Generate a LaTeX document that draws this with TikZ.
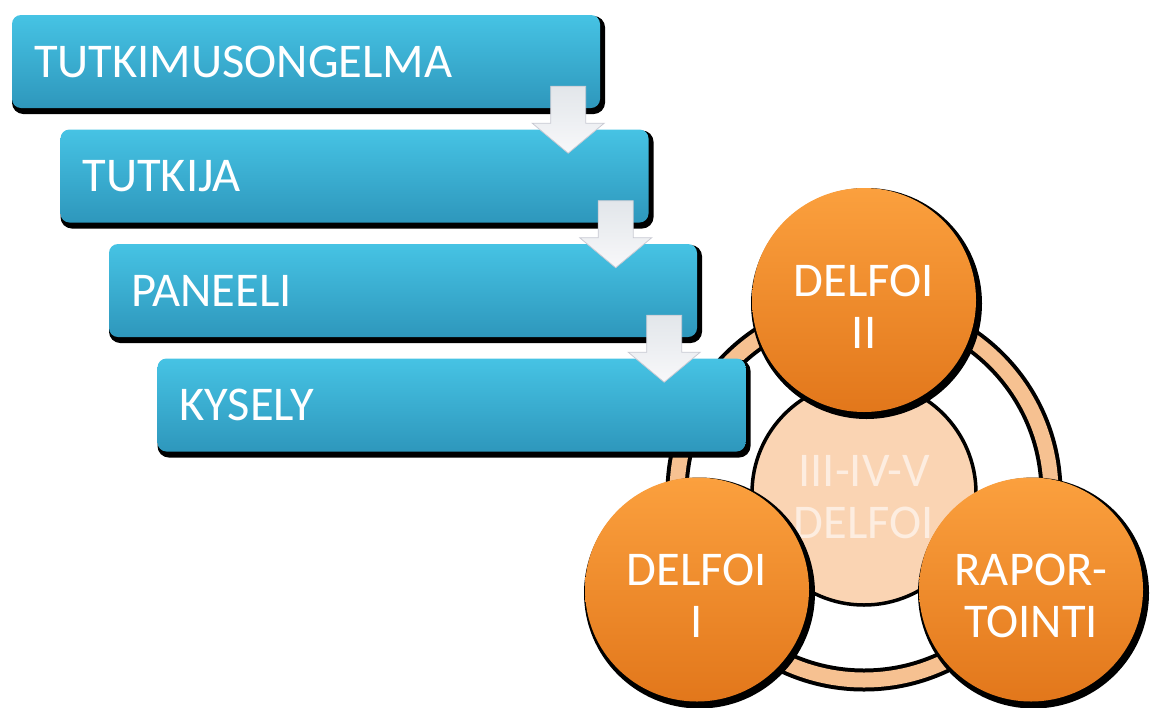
\documentclass[tikz,border=0pt]{standalone}
\usepackage{fontspec}
\setmainfont{Carlito}
\usetikzlibrary{calc,shadows}
\definecolor{boxtop}{HTML}{46C3E4}
\definecolor{boxbot}{HTML}{2E97BC}
\definecolor{orbtop}{HTML}{FBA03E}
\definecolor{orbbot}{HTML}{E2771B}
\definecolor{ringfill}{HTML}{F6C191}
\definecolor{corefill}{HTML}{FAD4B3}
\definecolor{coretext}{HTML}{FDEDE0}
\definecolor{arrowtop}{HTML}{E2E6EA}
\definecolor{arrowbot}{HTML}{F8F8FA}
\definecolor{arrowedge}{HTML}{C9CAD3}
\tikzset{
  bigfont/.style={font=\fontsize{48.5}{52}\selectfont},
  stage/.style={rectangle, rounded corners=9pt, minimum width=588pt,
    minimum height=93pt, text width=544pt, inner xsep=22pt, inner ysep=0pt,
    align=left, text height=31pt, text depth=0pt,
    top color=boxtop, bottom color=boxbot, text=white, bigfont,
    general shadow={fill=black, draw=black, line width=5pt,
      shadow xshift=2.5pt, shadow yshift=-3.5pt}},
  orb/.style={circle, minimum size=224pt, inner sep=0pt,
    top color=orbtop, bottom color=orbbot,
    general shadow={fill=black, draw=black, line width=7pt,
      shadow xshift=2.5pt, shadow yshift=-3.5pt}},
  core/.style={circle, minimum size=224pt, inner sep=0pt, fill=corefill,
    draw=black, line width=3.5pt},
  orbtext/.style={align=center, text=white, bigfont, inner sep=0pt},
  flowarrow/.pic={
    \path[top color=arrowtop, bottom color=arrowbot, draw=arrowedge,
      line width=0.8pt]
      (-17.5,0) -- (17.5,0) -- (17.5,37) -- (36,37) -- (0,67)
      -- (-36,37) -- (-17.5,37) -- cycle;
  }
}
\begin{document}
\begin{tikzpicture}[x=1pt,y=-1pt]
\useasboundingbox (0,0) rectangle (1155,707);

% cycle: ring and centre disc
\coordinate (hub) at (864,493);
\draw[black, line width=23pt] (hub) circle[radius=187pt];
\draw[ringfill, line width=15pt] (hub) circle[radius=187pt];
\node[core] (c0) at (hub) {};
\node[orbtext, text=coretext] at ($(c0)+(0,4)$) {III-IV-V\\DELFOI};

% process stages
\node[stage] (b1) at (306,61.5) {TUTKIMUSONGELMA};
\node[stage] (b2) at (354.5,176) {TUTKIJA};
\node[stage] (b3) at (403,290.5) {PANEELI};
\node[stage] (b4) at (451.5,405) {KYSELY};

% arrows between stages
\pic at ($(b1.south east)+(-32,-22)$) {flowarrow};
\pic at ($(b2.south east)+(-33,-22)$) {flowarrow};
\pic at ($(b3.south east)+(-33,-22)$) {flowarrow};

% rounds on the cycle
\node[orb] (d2) at (864,300) {};
\node[orbtext] at ($(d2)+(0,7)$) {DELFOI\\II};
\node[orb] (d1) at (697,589.5) {};
\node[orbtext] at ($(d1)+(0,6)$) {DELFOI\\I};
\node[orb] (rp) at (1031,589.5) {};
\node[orbtext] at ($(rp)+(0,6)$) {RAPOR-\\TOINTI};
\end{tikzpicture}
\end{document}
